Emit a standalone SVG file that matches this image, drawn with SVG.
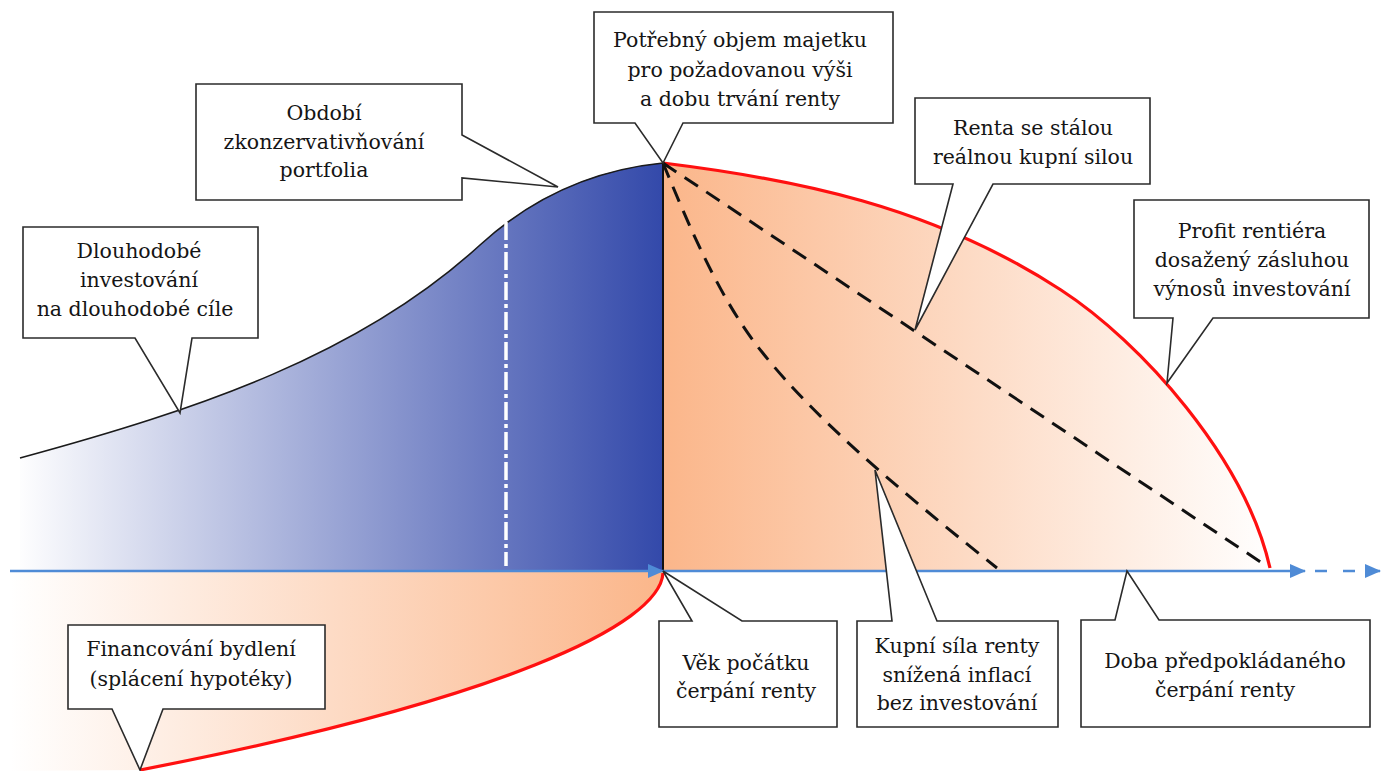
<svg xmlns="http://www.w3.org/2000/svg" width="1389" height="771" viewBox="0 0 1389 771">
<defs>
<linearGradient id="gBlue" gradientUnits="userSpaceOnUse" x1="15" y1="0" x2="663" y2="0">
<stop offset="0" stop-color="#ffffff"/>
<stop offset="1" stop-color="#3349aa"/>
</linearGradient>
<linearGradient id="gOrR" gradientUnits="userSpaceOnUse" x1="663" y1="0" x2="1275" y2="0">
<stop offset="0" stop-color="#fbb68a"/>
<stop offset="1" stop-color="#ffffff"/>
</linearGradient>
<linearGradient id="gOrL" gradientUnits="userSpaceOnUse" x1="10" y1="0" x2="663" y2="0">
<stop offset="0" stop-color="#ffffff"/>
<stop offset="1" stop-color="#fbb68a"/>
</linearGradient>
<marker id="arr" markerUnits="userSpaceOnUse" markerWidth="16" markerHeight="14" refX="15" refY="7" orient="auto">
<path d="M0,0 L16,7 L0,14 Z" fill="#4f8bd6"/>
</marker>
<style>
.box{fill:#ffffff;stroke:#2b2b2b;stroke-width:1.6;stroke-linejoin:miter}
.t{font-family:'DejaVu Serif',serif;font-size:20.5px;fill:#151515;text-anchor:middle}
.axis{stroke:#4f8bd6;stroke-width:2.6;fill:none}
.dash{stroke:#111;stroke-width:3;fill:none;stroke-dasharray:16 10}
.red{stroke:#ff1010;stroke-width:3.2;fill:none}
</style>
</defs>

<g id="areas">
<path d="M20,458 C200,409 360,355 480,245 C540,190 603,169 663,163 L663,571 L20,571 Z" fill="url(#gBlue)"/>
<path d="M663,163 C793,179 931,205.5 1061,290 C1141,342 1245,458 1270,568 L1270,571 L663,571 Z" fill="url(#gOrR)"/>
<path d="M0,571 L663,571 C660,625 500,700 140,770 L0,771 Z" fill="url(#gOrL)"/>
<path d="M20,458 C200,409 360,355 480,245 C540,190 603,169 663,163" fill="none" stroke="#1a1a1a" stroke-width="1.6"/>
<line x1="506" y1="222" x2="506" y2="566" stroke="#ffffff" stroke-width="3.5" stroke-dasharray="18 4 4 4"/>
<line x1="663" y1="163" x2="663" y2="571" stroke="#111" stroke-width="2"/>
<path class="red" d="M663,163 C793,179 931,205.5 1061,290 C1141,342 1245,458 1270,568"/>
<path class="red" d="M663,573 C660,625 500,700 140,770"/>
<line class="dash" x1="663" y1="163" x2="1268" y2="567"/>
<path class="dash" d="M663,163 C690,228 720,300 762,352 C822,428 927,512 997,568"/>
</g>

<g id="connectors">
<line class="axis" x1="10" y1="571" x2="663" y2="571" marker-end="url(#arr)"/>
<line class="axis" x1="663" y1="571" x2="1305" y2="571" marker-end="url(#arr)"/>
<line class="axis" x1="1305" y1="571" x2="1380" y2="571" stroke-dasharray="12 16" stroke-dashoffset="-10" marker-end="url(#arr)"/>
</g>

<g id="n-obdobi">
<path class="box" d="M196,84 H462 V135 L558,187 L462,178 V200 H196 Z"/>
<text class="t" x="324" y="120">Období</text>
<text class="t" x="324" y="149">zkonzervativňování</text>
<text class="t" x="324" y="177">portfolia</text>
</g>

<g id="n-potrebny">
<path class="box" d="M594,12 H893 V123 H683 L663,163 L635,123 H594 Z"/>
<text class="t" x="740" y="47">Potřebný objem majetku</text>
<text class="t" x="740" y="77">pro požadovanou výši</text>
<text class="t" x="740" y="106">a dobu trvání renty</text>
</g>

<g id="n-renta">
<path class="box" d="M915,98 H1150 V184 H993 L915,330 L953,184 H915 Z"/>
<text class="t" x="1033" y="135">Renta se stálou</text>
<text class="t" x="1033" y="164">reálnou kupní silou</text>
</g>

<g id="n-profit">
<path class="box" d="M1134,200 H1369 V318 H1213 L1167,383 L1173,318 H1134 Z"/>
<text class="t" x="1252" y="238">Profit rentiéra</text>
<text class="t" x="1252" y="267">dosažený zásluhou</text>
<text class="t" x="1252" y="296">výnosů investování</text>
</g>

<g id="n-dlouhodobe">
<path class="box" d="M23,227 H258 V338 H192 L180,413 L135,338 H23 Z"/>
<text class="t" x="139" y="258">Dlouhodobé</text>
<text class="t" x="139" y="287">investování</text>
<text class="t" x="135" y="316">na dlouhodobé cíle</text>
</g>

<g id="n-vek">
<path class="box" d="M659,621 H692 L663,571 L742,621 H837 V727 H659 Z"/>
<text class="t" x="746" y="670">Věk počátku</text>
<text class="t" x="746" y="698">čerpání renty</text>
</g>

<g id="n-kupni">
<path class="box" d="M857,621 H892 L875,470 L937,621 H1058 V727 H857 Z"/>
<text class="t" x="957" y="653">Kupní síla renty</text>
<text class="t" x="957" y="682">snížená inflací</text>
<text class="t" x="957" y="710">bez investování</text>
</g>

<g id="n-doba">
<path class="box" d="M1081,620 H1115 L1127,571 L1159,620 H1370 V727 H1081 Z"/>
<text class="t" x="1225" y="668">Doba předpokládaného</text>
<text class="t" x="1225" y="697">čerpání renty</text>
</g>

<g id="n-financovani">
<path class="box" d="M68,625 H325 V709 H163 L140,770 L112,709 H68 Z"/>
<text class="t" x="191" y="656">Financování bydlení</text>
<text class="t" x="191" y="686">(splácení hypotéky)</text>
</g>
</svg>
